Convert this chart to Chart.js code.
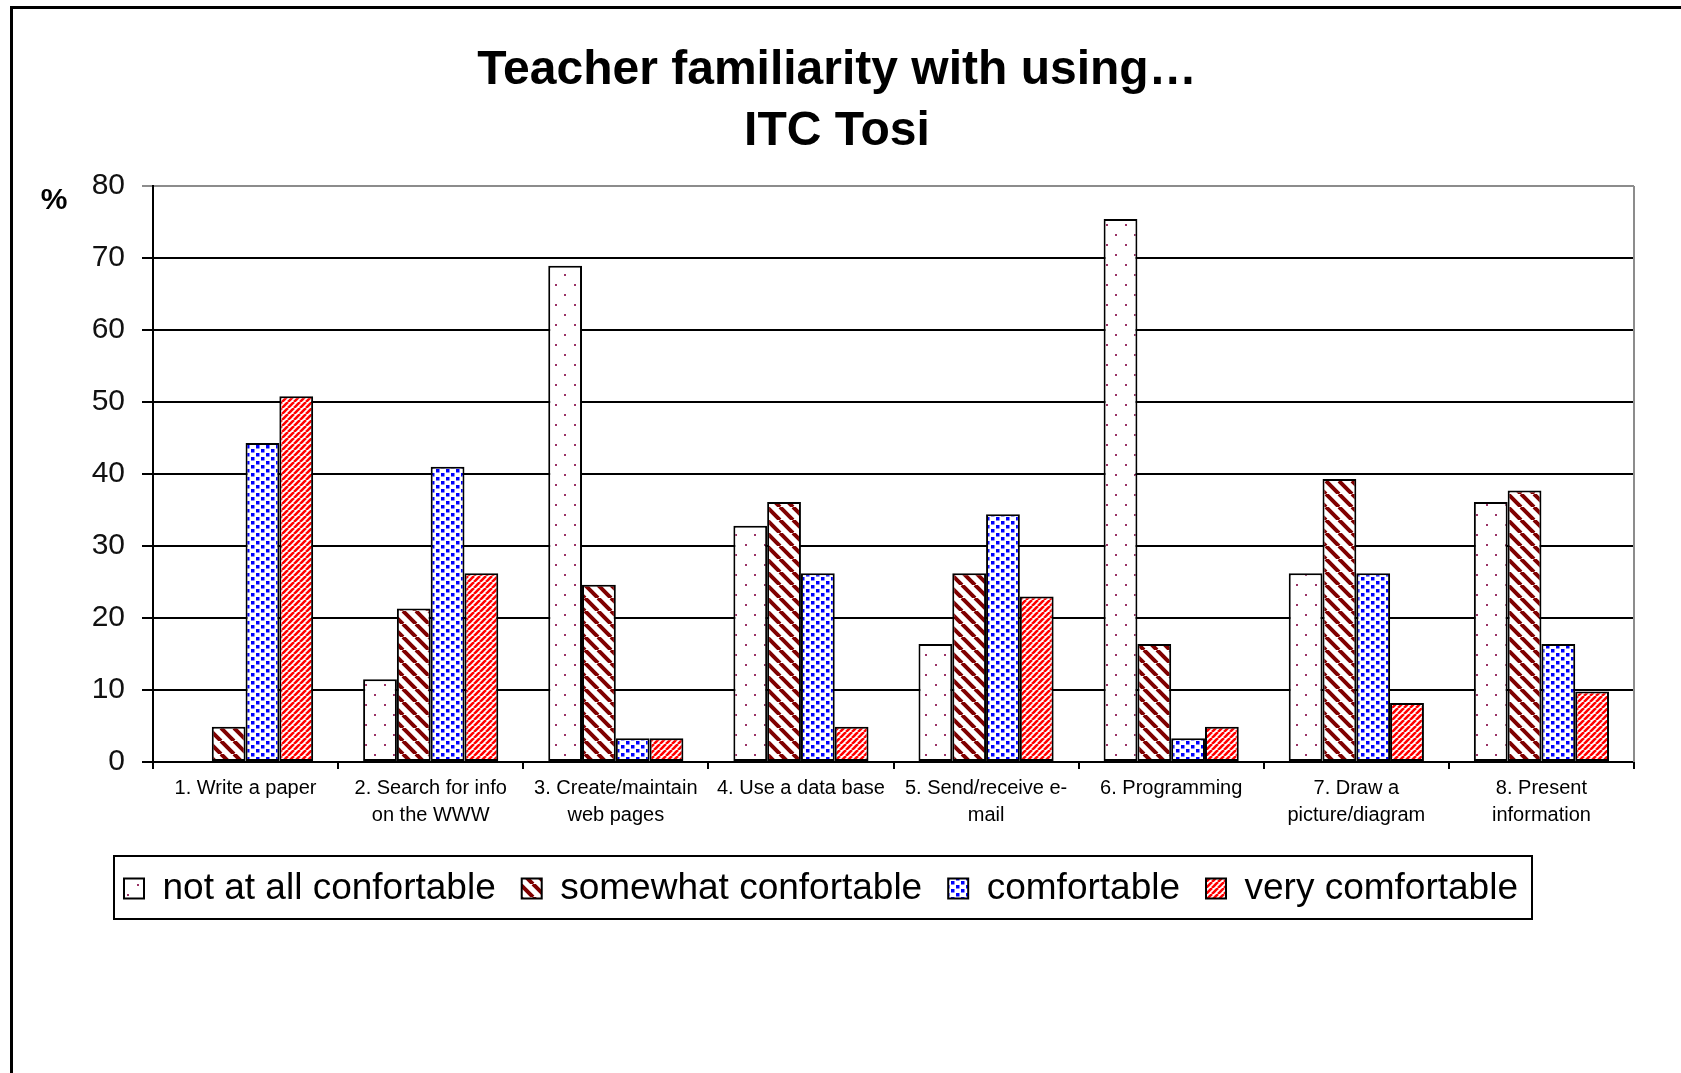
<!DOCTYPE html>
<html>
<head>
<meta charset="utf-8">
<title>Teacher familiarity with using… ITC Tosi</title>
<script src="https://cdn.jsdelivr.net/npm/chart.js@4.4.1/dist/chart.umd.min.js"></script>
<style>
  html, body { margin: 0; padding: 0; background: #fff; }
  canvas { display: block; }
</style>
</head>
<body>
<canvas id="chart" width="1681" height="1073"></canvas>
<script>
const titleLines = ['Teacher familiarity with using…', 'ITC Tosi'];
const categories = [
  ['1. Write a paper'],
  ['2. Search for info', 'on the WWW'],
  ['3. Create/maintain', 'web pages'],
  ['4. Use a data base'],
  ['5. Send/receive e-', 'mail'],
  ['6. Programming'],
  ['7. Draw a', 'picture/diagram'],
  ['8. Present', 'information']
];
const seriesNames = ['not at all confortable', 'somewhat confortable', 'comfortable', 'very comfortable'];
const notAtAll = [0, 11.5, 68.9, 32.8, 16.4, 75.4, 26.2, 36.1];
const somewhat = [4.9, 21.3, 24.6, 36.1, 26.2, 16.4, 39.3, 37.7];
const comfortable = [44.3, 41.0, 3.3, 26.2, 34.4, 3.3, 26.2, 16.4];
const veryComfortable = [50.8, 26.2, 3.3, 4.9, 23.0, 4.9, 8.2, 9.8];
const yTicks = [0, 10, 20, 30, 40, 50, 60, 70, 80];

const FONT = '"Liberation Sans", Arial, sans-serif';

function makePattern(w, h, draw) {
  const tile = document.createElement('canvas');
  tile.width = w;
  tile.height = h;
  const tctx = tile.getContext('2d');
  tctx.fillStyle = '#fff';
  tctx.fillRect(0, 0, w, h);
  draw(tctx, w, h);
  return tctx.createPattern(tile, 'repeat');
}

// sparse purple dots
const dotsFill = makePattern(19, 20, (c) => {
  c.fillStyle = '#993366';
  c.fillRect(4, 4, 2, 2);
  c.fillRect(13, 14, 2, 2);
});

// wide dark red "\" stripes
const wideStripes = makePattern(13, 13, (c, w, h) => {
  c.strokeStyle = '#800000';
  c.lineWidth = 4;
  c.beginPath();
  for (let x0 = -w; x0 <= w; x0 += w) {
    c.moveTo(x0, 0);
    c.lineTo(x0 + w, h);
  }
  c.stroke();
});

// blue confetti squares
const confetti = makePattern(10, 8, (c) => {
  c.fillStyle = '#0000ff';
  c.fillRect(1, 1, 3.5, 3.5);
  c.fillRect(6, 5, 3.5, 3.5);
  c.fillRect(6, -3, 3.5, 3.5);
});

// thin red "/" stripes
const thinStripes = makePattern(6, 6, (c, w, h) => {
  c.strokeStyle = '#ff0000';
  c.lineWidth = 2.6;
  c.beginPath();
  for (let x0 = -w; x0 <= w; x0 += w) {
    c.moveTo(x0, h);
    c.lineTo(x0 + w, 0);
  }
  c.stroke();
});

const fills = [dotsFill, wideStripes, confetti, thinStripes];
const values = [notAtAll, somewhat, comfortable, veryComfortable];

const decorPlugin = {
  id: 'decor',
  afterLayout(chart) {
    // the legend sits a little left of centre in the original
    const lg = chart.legend;
    if (lg) {
      lg.left -= 16;
      lg.right -= 16;
    }
  },
  beforeDraw(chart) {
    const ctx = chart.ctx;
    ctx.save();
    ctx.fillStyle = '#fff';
    ctx.fillRect(0, 0, chart.width, chart.height);
    ctx.restore();
  },
  afterDraw(chart) {
    const ctx = chart.ctx;
    const area = chart.chartArea;
    ctx.save();

    // outer frame (top and left edges)
    ctx.strokeStyle = '#000';
    ctx.lineWidth = 3;
    ctx.beginPath();
    ctx.moveTo(11.5, chart.height);
    ctx.lineTo(11.5, 7.5);
    ctx.lineTo(chart.width, 7.5);
    ctx.stroke();

    // grey right edge of plot area
    ctx.strokeStyle = '#8c8c8c';
    ctx.lineWidth = 2;
    ctx.beginPath();
    ctx.moveTo(area.right, area.top);
    ctx.lineTo(area.right, area.bottom);
    ctx.stroke();

    // "%" unit label
    ctx.fillStyle = '#000';
    ctx.font = 'bold 30px ' + FONT;
    ctx.textAlign = 'center';
    ctx.textBaseline = 'middle';
    ctx.fillText('%', 54, 201);

    // legend frame
    const boxes = chart.legend.legendHitBoxes;
    if (boxes && boxes.length) {
      const left = Math.min(...boxes.map((b) => b.left)) - 10;
      const right = Math.max(...boxes.map((b) => b.left + b.width)) + 14;
      const top = boxes[0].top - 14;
      const bottom = boxes[0].top + boxes[0].height + 12;
      ctx.strokeStyle = '#000';
      ctx.lineWidth = 2;
      ctx.strokeRect(left, top, right - left, bottom - top);
    }
    ctx.restore();
  }
};

new Chart(document.getElementById('chart'), {
  type: 'bar',
  data: {
    labels: categories,
    datasets: seriesNames.map((name, i) => ({
      label: name,
      data: values[i],
      backgroundColor: fills[i],
      borderColor: '#000',
      borderWidth: 2,
      borderSkipped: false,
      categoryPercentage: 0.73,
      barPercentage: 1
    }))
  },
  options: {
    responsive: false,
    animation: false,
    devicePixelRatio: 1,
    layout: { padding: { left: 40, right: 47, top: 0, bottom: 156 } },
    plugins: {
      title: {
        display: true,
        text: titleLines,
        color: '#000',
        font: { family: FONT, size: 48, weight: 'bold', lineHeight: 1.27 },
        padding: { top: 40, bottom: 24 }
      },
      legend: {
        position: 'bottom',
        labels: {
          color: '#000',
          boxWidth: 20,
          boxHeight: 20,
          padding: 26,
          font: { family: FONT, size: 37 }
        }
      },
      tooltip: { enabled: false }
    },
    scales: {
      x: {
        grid: { drawOnChartArea: false, color: '#000', lineWidth: 2, tickLength: 7, offset: true },
        border: { color: '#000', width: 2 },
        ticks: {
          color: '#000',
          font: { family: FONT, size: 20, lineHeight: 1.35 },
          maxRotation: 0,
          autoSkip: false,
          padding: 6
        },
        afterFit(scale) { scale.height = 82; }
      },
      y: {
        min: yTicks[0],
        max: yTicks[yTicks.length - 1],
        afterBuildTicks(scale) { scale.ticks = yTicks.map((v) => ({ value: v })); },
        grid: {
          color: (c) => (c.tick && c.tick.value === 80 ? '#8c8c8c' : '#000'),
          lineWidth: 2,
          tickLength: 11
        },
        border: { color: '#000', width: 2 },
        ticks: {
          color: '#111',
          font: { family: FONT, size: 30 },
          padding: 17
        },
        afterFit(scale) { scale.width = 113; }
      }
    }
  },
  plugins: [decorPlugin]
});
</script>
</body>
</html>
